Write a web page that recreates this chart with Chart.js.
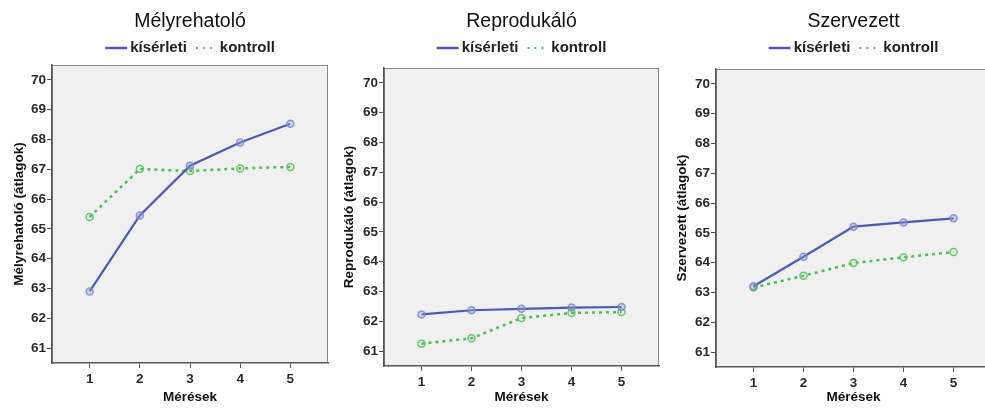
<!DOCTYPE html>
<html>
<head>
<meta charset="utf-8">
<script src="https://cdn.jsdelivr.net/npm/chart.js@4"></script>
<style>
    html, body { margin: 0; padding: 0; background: #fff; }
    body { width: 985px; height: 409px; overflow: hidden; position: relative; }
    .panel { position: absolute; top: 0; height: 409px; }
</style>
</head>
<body>
<div class="panel" style="left:0;width:335px"><canvas id="melyChart"></canvas></div>
<div class="panel" style="left:335px;width:330px"><canvas id="reprChart"></canvas></div>
<div class="panel" style="left:665px;width:335px"><canvas id="szervChart"></canvas></div>
<script>
const meresek = [1, 2, 3, 4, 5];
const yTickValues = [61, 62, 63, 64, 65, 66, 67, 68, 69, 70];
const seriesNames = ['kísérleti', 'kontroll'];

const melyKiserleti = [62.9, 65.45, 67.12, 67.9, 68.53];
const melyKontroll = [65.4, 67.01, 66.94, 67.03, 67.08];
const reprKiserleti = [62.23, 62.37, 62.42, 62.46, 62.48];
const reprKontroll = [61.25, 61.43, 62.11, 62.28, 62.31];
const szervKiserleti = [63.21, 64.2, 65.21, 65.35, 65.49];
const szervKontroll = [63.17, 63.56, 63.99, 64.18, 64.36];

const chartColors = {
    kiserleti: '#4a5ab5',
    kiserletiPoint: 'rgba(120, 135, 215, 0.85)',
    kontroll: '#45c24f',
    kontrollPoint: 'rgba(80, 200, 90, 0.9)',
    plotBg: '#f0f0f0',
    frame: '#8a8a8a',
    axis: '#555',
    tickText: '#2a2a2a',
};
const fontFamily = '"Liberation Sans", Arial, sans-serif';
const kontrollDash = [3, 4];

// background, frame, title and legend are drawn here, centred on the plot area
const panelDecor = {
    id: 'panelDecor',
    beforeDraw(chart) {
        const {ctx, chartArea: a} = chart;
        ctx.save();
        ctx.fillStyle = chartColors.plotBg;
        ctx.fillRect(a.left, a.top, a.right - a.left, a.bottom - a.top);
        ctx.strokeStyle = chartColors.frame;
        ctx.lineWidth = 1;
        ctx.strokeRect(a.left + 0.5, a.top + 0.5, a.right - a.left - 1, a.bottom - a.top - 1);
        ctx.restore();
    },
    afterDraw(chart, args, opts) {
        const {ctx, chartArea: a} = chart;
        const cx = (a.left + a.right) / 2;
        ctx.save();
        ctx.fillStyle = '#111';
        ctx.font = '19.5px ' + fontFamily;
        ctx.textAlign = 'center';
        ctx.textBaseline = 'middle';
        ctx.fillText(opts.title, cx, opts.titleY);

        ctx.fillStyle = '#222';
        ctx.font = 'bold 15px ' + fontFamily;
        const w1 = ctx.measureText(seriesNames[0]).width;
        const w2 = ctx.measureText(seriesNames[1]).width;
        const total = 22 + 3 + w1 + 8 + 22 + 3 + w2;
        let x = cx - total / 2;
        const y = opts.legendY;
        ctx.textAlign = 'left';

        ctx.strokeStyle = chartColors.kiserleti;
        ctx.lineWidth = 2.5;
        ctx.beginPath(); ctx.moveTo(x, y); ctx.lineTo(x + 22, y); ctx.stroke();
        x += 25;
        ctx.fillText(seriesNames[0], x, y);
        x += w1 + 8;

        ctx.strokeStyle = chartColors.kontroll;
        ctx.lineWidth = 2;
        ctx.setLineDash([2, 5]);
        ctx.beginPath(); ctx.moveTo(x + 1, y); ctx.lineTo(x + 22, y); ctx.stroke();
        ctx.setLineDash([]);
        x += 25;
        ctx.fillText(seriesNames[1], x, y);
        ctx.restore();
    }
};

function makePanel(id, title, yTitle, kiserleti, kontroll, lay) {
    const ctx = document.getElementById(id).getContext('2d');
    return new Chart(ctx, {
        type: 'line',
        data: {
            datasets: [
                {
                    label: seriesNames[0],
                    data: meresek.map((m, i) => ({x: m, y: kiserleti[i]})),
                    borderColor: chartColors.kiserleti,
                    borderWidth: 2.2,
                    tension: 0,
                    pointRadius: 3.5,
                    pointBorderWidth: 1.5,
                    pointBackgroundColor: 'rgba(150,160,225,0.35)',
                    pointBorderColor: chartColors.kiserletiPoint,
                },
                {
                    label: seriesNames[1],
                    data: meresek.map((m, i) => ({x: m, y: kontroll[i]})),
                    borderColor: chartColors.kontroll,
                    borderWidth: 2.5,
                    borderDash: kontrollDash,
                    tension: 0,
                    pointRadius: 3.5,
                    pointBorderWidth: 1.5,
                    pointBackgroundColor: 'rgba(0,0,0,0)',
                    pointBorderColor: chartColors.kontrollPoint,
                }
            ]
        },
        options: {
            responsive: true,
            maintainAspectRatio: false,
            animation: false,
            layout: {
                padding: {top: lay.top, right: lay.right, left: 0, bottom: 0}
            },
            scales: {
                x: {
                    type: 'linear',
                    min: 0.25,
                    max: 5.75,
                    afterBuildTicks: (axis) => { axis.ticks = meresek.map(v => ({value: v})); },
                    afterFit: (axis) => { axis.height = 409 - lay.top - 298; },
                    grid: {drawOnChartArea: false, tickLength: 5, color: chartColors.axis},
                    border: {color: chartColors.axis, width: 1.5},
                    ticks: {color: chartColors.tickText, padding: 3, font: {family: fontFamily, size: 13.5, weight: 'bold'}},
                    title: {
                        display: true,
                        text: 'Mérések',
                        color: '#111',
                        padding: {top: 0, bottom: 4},
                        font: {family: fontFamily, size: 13.5, weight: 'bold'}
                    }
                },
                y: {
                    min: 60.5,
                    max: 70.5,
                    afterBuildTicks: (axis) => { axis.ticks = yTickValues.map(v => ({value: v})); },
                    afterFit: (axis) => { axis.width = lay.axisW; },
                    grid: {drawOnChartArea: false, tickLength: 5, color: chartColors.axis},
                    border: {color: chartColors.axis, width: 1.5},
                    ticks: {color: chartColors.tickText, padding: 1, font: {family: fontFamily, size: 13.5, weight: 'bold'}},
                    title: {
                        display: true,
                        text: yTitle,
                        color: '#111',
                        padding: {top: lay.titlePad, bottom: 0},
                        font: {family: fontFamily, size: 13.5, weight: 'bold'}
                    }
                }
            },
            plugins: {
                legend: {display: false},
                tooltip: {enabled: false},
                panelDecor: {title: title, titleY: 22, legendY: 48}
            }
        },
        plugins: [panelDecor]
    });
}

makePanel('melyChart', 'Mélyrehatoló', 'Mélyrehatoló (átlagok)', melyKiserleti, melyKontroll,
    {top: 65, right: 7, axisW: 52, titlePad: 11});
makePanel('reprChart', 'Reprodukáló', 'Reprodukáló (átlagok)', reprKiserleti, reprKontroll,
    {top: 68, right: 6, axisW: 49, titlePad: 6});
makePanel('szervChart', 'Szervezett', 'Szervezett (átlagok)', szervKiserleti, szervKontroll,
    {top: 69, right: 9, axisW: 51, titlePad: 9});
</script>
</body>
</html>
